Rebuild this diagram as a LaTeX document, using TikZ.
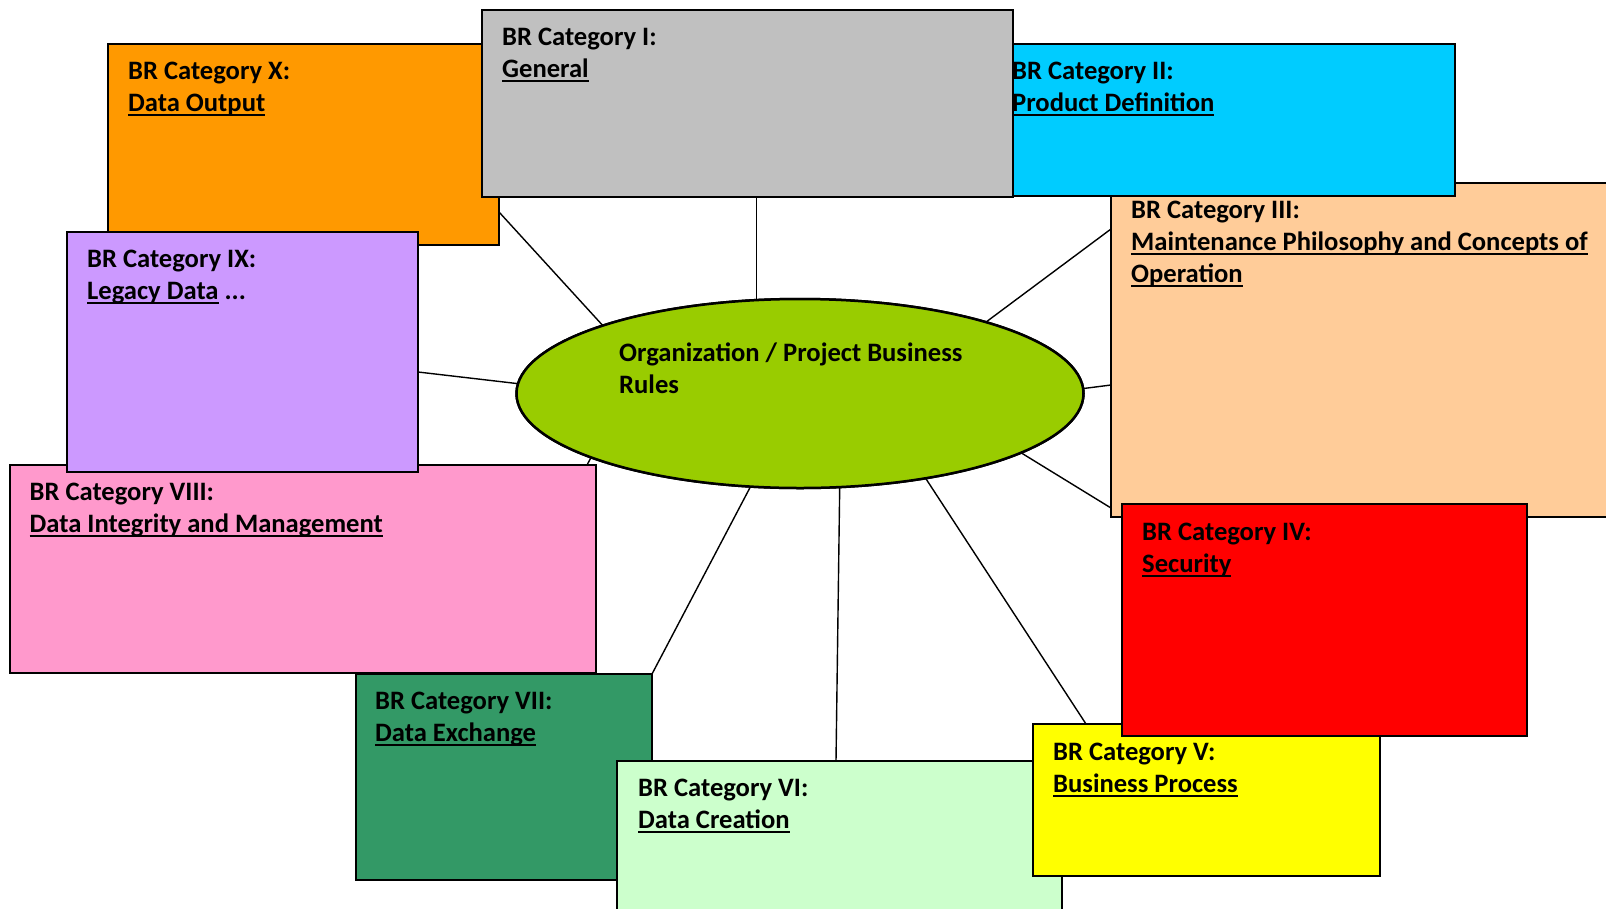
\documentclass[tikz,border=0pt]{standalone}
\usepackage{fontspec}
\setmainfont{Carlito}
\usetikzlibrary{shapes.geometric,calc}
\newcommand\ulx[1]{\setbox0\hbox{#1}\rlap{\rule[-4.5pt]{\wd0}{2pt}}\box0\relax}
\definecolor{cOrange}{HTML}{FF9900}
\definecolor{cGray}{HTML}{C0C0C0}
\definecolor{cCyan}{HTML}{00CCFF}
\definecolor{cPeach}{HTML}{FFCC99}
\definecolor{cPurple}{HTML}{CC99FF}
\definecolor{cPink}{HTML}{FF99CC}
\definecolor{cRed}{HTML}{FF0000}
\definecolor{cYellow}{HTML}{FFFF00}
\definecolor{cDGreen}{HTML}{339966}
\definecolor{cLGreen}{HTML}{CCFFCC}
\definecolor{cLime}{HTML}{99CC00}
\begin{document}
\begin{tikzpicture}[x=1pt,y=-1pt,
  box/.style={draw=black, line width=2pt, inner sep=0pt, outer sep=0pt, anchor=north west},
  lbl/.style={anchor=base west, inner sep=0pt, align=left, font=\fontsize{26.6}{32}\selectfont\bfseries},
  link/.style={draw=black, line width=1.4pt}]
\useasboundingbox (0,0) rectangle (1606,908);
\clip (0,0) rectangle (1606,908);
\fill[white] (0,0) rectangle (1606,908);

% central ellipse (placed first so connectors can refer to it; redrawn on top)
\node[ellipse, draw=black, line width=2.5pt, fill=cLime, minimum width=567pt, minimum height=189pt, inner sep=0pt, outer sep=0pt] (ell) at (800,393.5) {};

% boxes (for connector anchors)
\path (108,44) node[box, minimum width=391pt, minimum height=201pt] (X) {};
\path (482,10) node[box, minimum width=531pt, minimum height=187pt] (I) {};
\path (992,44) node[box, minimum width=463pt, minimum height=152pt] (II) {};
\path (1111,183) node[box, minimum width=520pt, minimum height=334pt] (III) {};
\path (67,232) node[box, minimum width=351pt, minimum height=240pt] (IX) {};
\path (10,465) node[box, minimum width=586pt, minimum height=208pt] (VIII) {};
\path (356,674) node[box, minimum width=296pt, minimum height=206pt] (VII) {};
\path (617,761) node[box, minimum width=445pt, minimum height=170pt] (VI) {};
\path (1033,724) node[box, minimum width=347pt, minimum height=152pt] (V) {};
\path (1122,504) node[box, minimum width=405pt, minimum height=232pt] (IV) {};

% connectors
\draw[link] (ell.115.2) -- (ell.115.2 |- I.south);
\draw[link] (ell.161.4) -- ($(X.south east)+(0,-33)$);
\draw[link] (ell.178.5) -- ($(IX.east)+(0,20)$);
\draw[link] (ell.21.8) -- ($(III.north west)+(0,46)$);
\draw[link] (ell.1.1) -- ($(III.north west)+(0,202)$);
\draw[link] (ell.-15) -- ($(III.north west)+(0,325)$);
\draw[link] (ell.-34.7) -- ($(V.north west)+(53,0)$);
\draw[link] (ell.-67.4) -- ($(VI.north west)+(219,0)$);
\draw[link] (ell.-118.7) -- (VII.north east);
\draw[link] (ell.-163) -- ($(VIII.north east)+(-9,0)$);

% boxes drawn in stacking order (text anchor = baseline of last line)
\node[box, fill=cOrange, minimum width=391pt, minimum height=201pt] (Xb) at (108,44) {};
\node[lbl] (Xt) at (128,111) {BR Category X:\\\ulx{Data Output}};

\node[box, fill=cPeach, minimum width=520pt, minimum height=334pt] (IIIb) at (1111,183) {};
\node[lbl] (IIIt) at (1131,282) {BR Category III:\\\ulx{Maintenance Philosophy and Concepts of}\\\ulx{Operation}};

\node[box, fill=cCyan, minimum width=463pt, minimum height=152pt] (IIb) at (992,44) {};
\node[lbl] (IIt) at (1012,111) {BR Category II:\\\ulx{Product Definition}};

\node[box, fill=cGray, minimum width=531pt, minimum height=187pt] (Ib) at (482,10) {};
\node[lbl] (It) at (502,77) {BR Category I:\\\ulx{General}};

\node[box, fill=cPink, minimum width=586pt, minimum height=208pt] (VIIIb) at (10,465) {};
\node[lbl] (VIIIt) at (29.5,532) {BR Category VIII:\\\ulx{Data Integrity and Management}};

\node[box, fill=cPurple, minimum width=351pt, minimum height=240pt] (IXb) at (67,232) {};
\node[lbl] (IXt) at (87,299) {BR Category IX:\\\ulx{Legacy Data} ...};

\node[box, fill=cDGreen, minimum width=296pt, minimum height=206pt] (VIIb) at (356,674) {};
\node[lbl] (VIIt) at (375,741) {BR Category VII:\\\ulx{Data Exchange}};

\node[box, fill=cLGreen, minimum width=445pt, minimum height=170pt] (VIb) at (617,761) {};
\node[lbl] (VIt) at (638,828) {BR Category VI:\\\ulx{Data Creation}};

\node[box, fill=cYellow, minimum width=347pt, minimum height=152pt] (Vb) at (1033,724) {};
\node[lbl] (Vt) at (1053,792) {BR Category V:\\\ulx{Business Process}};

\node[box, fill=cRed, minimum width=405pt, minimum height=232pt] (IVb) at (1122,504) {};
\node[lbl] (IVt) at (1142,572) {BR Category IV:\\\ulx{Security}};

% ellipse on top
\node[ellipse, draw=black, line width=2.5pt, fill=cLime, minimum width=567pt, minimum height=189pt, inner sep=0pt, outer sep=0pt] (ellb) at (800,393.5) {};
\node[lbl] (ellt) at (619,393) {Organization / Project Business\\Rules};
\end{tikzpicture}
\end{document}
